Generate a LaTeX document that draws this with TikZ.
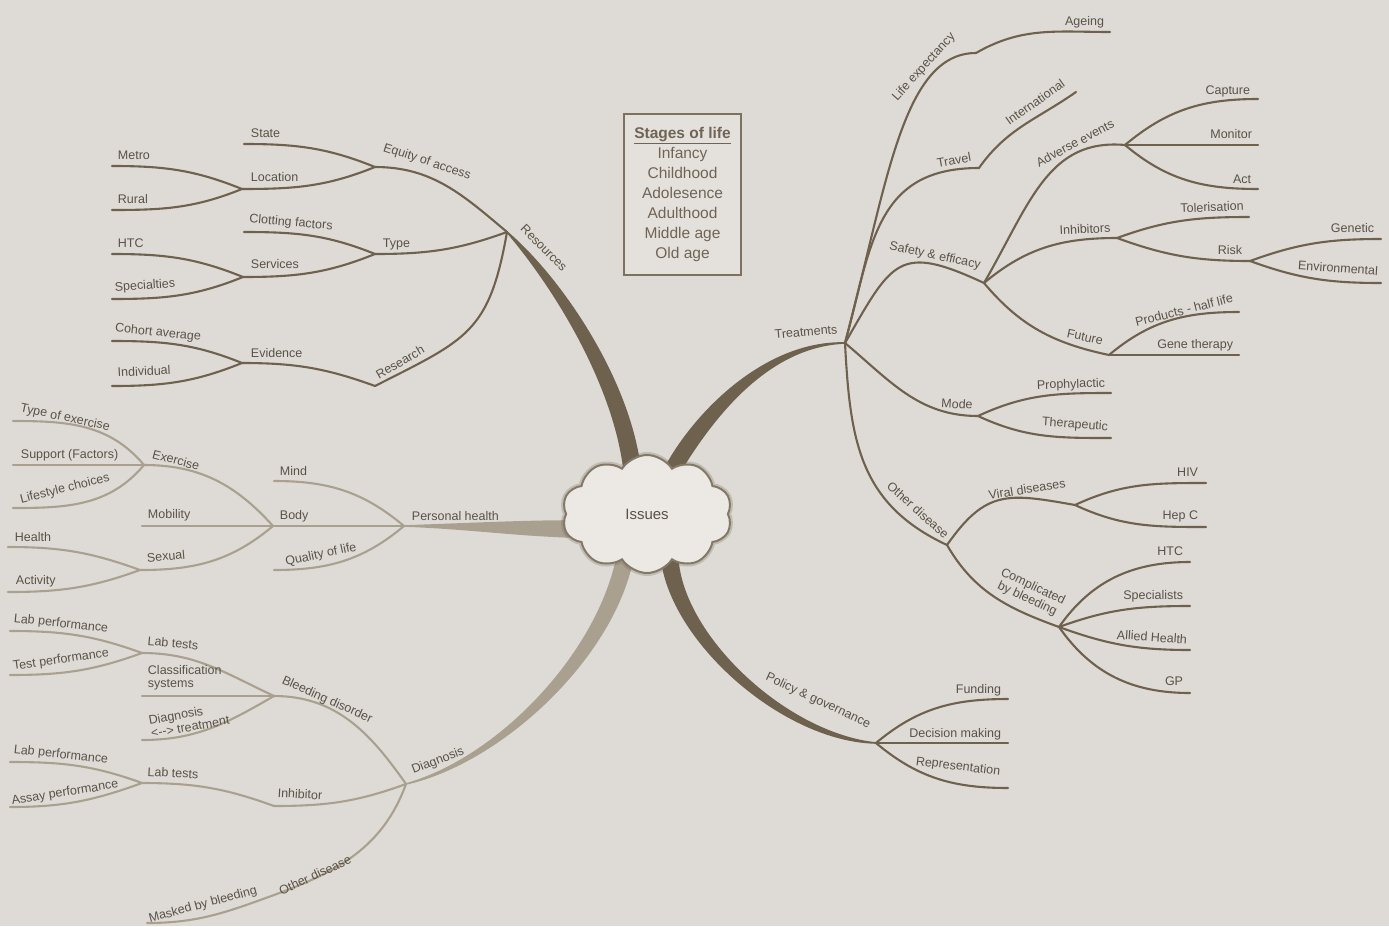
\documentclass[tikz,border=0pt]{standalone}
\usepackage{fontspec}
\setmainfont{Liberation Sans}
\usepackage{tikz}
\usetikzlibrary{shapes.symbols}

\definecolor{paper}{RGB}{222,219,214}
\definecolor{twig}{RGB}{110,97,77}
\definecolor{paletwig}{RGB}{170,160,143}
\definecolor{ink}{RGB}{90,82,71}
\definecolor{boxink}{RGB}{112,100,85}
\definecolor{boxfill}{RGB}{228,225,220}
\definecolor{cloudfill}{RGB}{236,233,228}

\begin{document}
\begin{tikzpicture}[x=1pt,y=1pt,yscale=-1,
    lbl/.style={inner sep=0.75pt,text=ink,font=\fontsize{12.5}{13.5}\selectfont},
    twigline/.style={draw=twig,line width=2.1pt,line cap=round},
    paleline/.style={draw=paletwig,line width=2.1pt,line cap=round},
    trunk/.style={fill=twig,draw=twig,line width=1.6pt,line join=round},
    paletrunk/.style={fill=paletwig,draw=paletwig,line width=1.6pt,line join=round}]

    %Shape: background
    \fill [paper] (0,0) rectangle (1389,926);
    \useasboundingbox (0,0) rectangle (1389,926);

    % junctions and free ends
    \coordinate (res) at (507,232);
    \coordinate (eqa) at (375,167);
    \coordinate (state-e) at (244,144);
    \coordinate (loc) at (242,189);
    \coordinate (metro-e) at (112,166);
    \coordinate (rural-e) at (112,210);
    \coordinate (typ) at (375,254);
    \coordinate (clot-e) at (244,232);
    \coordinate (srv) at (243,277);
    \coordinate (htc-e) at (112,254);
    \coordinate (spec-e) at (112,299);
    \coordinate (rsch) at (375,386);
    \coordinate (evd) at (242,363);
    \coordinate (coh-e) at (112,341);
    \coordinate (ind-e) at (112,386);

    \coordinate (ph) at (404,526);
    \coordinate (mind-e) at (274,481);
    \coordinate (body) at (273,526);
    \coordinate (qol-e) at (274,570);
    \coordinate (exer) at (144,465);
    \coordinate (toe-e) at (13,421);
    \coordinate (sup-e) at (13,465);
    \coordinate (life-e) at (13,508);
    \coordinate (mob-e) at (142,526);
    \coordinate (sex) at (140,570);
    \coordinate (hlth-e) at (8,547);
    \coordinate (act-e) at (8,592);

    \coordinate (diag) at (406,784);
    \coordinate (bleed) at (274,696);
    \coordinate (labt1) at (142,653);
    \coordinate (labp1-e) at (10,631);
    \coordinate (testp-e) at (10,675);
    \coordinate (class-e) at (142,696);
    \coordinate (dxtx-e) at (142,740);
    \coordinate (inhib) at (274,806);
    \coordinate (labt2) at (142,783);
    \coordinate (labp2-e) at (10,762);
    \coordinate (assay-e) at (10,807);
    \coordinate (othl) at (274,895);
    \coordinate (mask-e) at (147,923);

    \coordinate (treat) at (845,343);
    \coordinate (lifex) at (976,53);
    \coordinate (age-e) at (1110,32);
    \coordinate (trav) at (979,168);
    \coordinate (intl-e) at (1076,92);
    \coordinate (safe) at (984,283);
    \coordinate (adv) at (1125,145);
    \coordinate (capt-e) at (1258,99);
    \coordinate (mon-e) at (1258,145);
    \coordinate (act2-e) at (1258,189);
    \coordinate (inh) at (1117,238);
    \coordinate (tol-e) at (1249,217);
    \coordinate (risk) at (1250,261);
    \coordinate (gen-e) at (1381,239);
    \coordinate (env-e) at (1381,283);
    \coordinate (fut) at (1109,355);
    \coordinate (prod-e) at (1239,312);
    \coordinate (gene-e) at (1239,355);
    \coordinate (mode) at (978,416);
    \coordinate (pro-e) at (1111,393);
    \coordinate (ther-e) at (1111,438);
    \coordinate (othr) at (947,545);
    \coordinate (vir) at (1075,505);
    \coordinate (hiv-e) at (1206,483);
    \coordinate (hepc-e) at (1206,527);
    \coordinate (comp) at (1059,627);
    \coordinate (htc2-e) at (1190,562);
    \coordinate (spc-e) at (1190,606);
    \coordinate (alh-e) at (1190,650);
    \coordinate (gp-e) at (1190,693);
    \coordinate (pol) at (876,743);
    \coordinate (fund-e) at (1008,699);
    \coordinate (dec-e) at (1008,743);
    \coordinate (rep-e) at (1008,788);

    % trunk feet inside the cloud
    \coordinate (res-bl) at (625,478);
    \coordinate (res-br) at (641,478);
    \coordinate (treat-bl) at (660,478);
    \coordinate (treat-br) at (676,478);
    \coordinate (ph-bt) at (572,521);
    \coordinate (ph-bb) at (572,537);
    \coordinate (diag-bl) at (616,562);
    \coordinate (diag-br) at (632,562);
    \coordinate (pol-bl) at (662,562);
    \coordinate (pol-br) at (678,562);

    % Connection: trunks
    \filldraw [trunk] (res) .. controls +(48,56) and +(-8,-90) .. (res-bl) -- (res-br) .. controls +(-7,-92) and +(56,48) .. (res) -- cycle;
    \filldraw [trunk] (treat-bl) .. controls +(26,-56) and +(-85,-2) .. (treat) .. controls +(-83,3) and +(30,-50) .. (treat-br) -- cycle;
    \filldraw [paletrunk] (ph) .. controls +(60,-2) and +(-50,0) .. (ph-bt) -- (ph-bb) .. controls +(-60,-2) and +(60,2) .. (ph) -- cycle;
    \filldraw [paletrunk] (diag) .. controls +(92,-26) and +(-22,95) .. (diag-bl) -- (diag-br) .. controls +(-21,97) and +(96,-22) .. (diag) -- cycle;
    \filldraw [trunk] (pol-bl) .. controls +(12,82) and +(-92,-2) .. (pol) .. controls +(-88,-9) and +(8,78) .. (pol-br) -- cycle;

    % Connection: Resources
    \draw [twigline] (eqa) to[out=0,in=220] (res);
    \draw [twigline] (typ) to[out=0,in=160] (res);
    \draw [twigline] (rsch) to[out=333,in=100,looseness=1.3] (res);
    \draw [twigline] (state-e) to[out=0,in=202] (eqa);
    \draw [twigline] (loc) to[out=0,in=158] (eqa);
    \draw [twigline] (metro-e) to[out=0,in=202] (loc);
    \draw [twigline] (rural-e) to[out=0,in=158] (loc);
    \draw [twigline] (clot-e) to[out=0,in=202] (typ);
    \draw [twigline] (srv) to[out=0,in=158] (typ);
    \draw [twigline] (htc-e) to[out=0,in=202] (srv);
    \draw [twigline] (spec-e) to[out=0,in=158] (srv);
    \draw [twigline] (evd) to[out=0,in=200] (rsch);
    \draw [twigline] (coh-e) to[out=0,in=202] (evd);
    \draw [twigline] (ind-e) to[out=0,in=158] (evd);

    % Connection: Personal health
    \draw [paleline] (mind-e) to[out=0,in=220] (ph);
    \draw [paleline] (body) -- (ph);
    \draw [paleline] (qol-e) to[out=0,in=140] (ph);
    \draw [paleline] (exer) to[out=0,in=228] (body);
    \draw [paleline] (mob-e) -- (body);
    \draw [paleline] (sex) to[out=0,in=140] (body);
    \draw [paleline] (toe-e) to[out=0,in=230] (exer);
    \draw [paleline] (sup-e) -- (exer);
    \draw [paleline] (life-e) to[out=0,in=130] (exer);
    \draw [paleline] (hlth-e) to[out=0,in=200] (sex);
    \draw [paleline] (act-e) to[out=0,in=160] (sex);

    % Connection: Diagnosis
    \draw [paleline] (bleed) to[out=0,in=235] (diag);
    \draw [paleline] (inhib) to[out=0,in=160] (diag);
    \draw [paleline] (othl) to[out=340,in=110] (diag);
    \draw [paleline] (labt1) to[out=0,in=205] (bleed);
    \draw [paleline] (class-e) -- (bleed);
    \draw [paleline] (dxtx-e) to[out=0,in=150] (bleed);
    \draw [paleline] (labp1-e) to[out=0,in=200] (labt1);
    \draw [paleline] (testp-e) to[out=0,in=160] (labt1);
    \draw [paleline] (labt2) to[out=0,in=200] (inhib);
    \draw [paleline] (labp2-e) to[out=0,in=200] (labt2);
    \draw [paleline] (assay-e) to[out=0,in=160] (labt2);
    \draw [paleline] (mask-e) to[out=0,in=160] (othl);

    % Connection: Treatments
    \draw [twigline] (treat) to[out=285,in=180,out looseness=1.3,in looseness=0.6] (lifex);
    \draw [twigline] (lifex) to[out=330,in=180] (age-e);
    \draw [twigline] (treat) to[out=285,in=180,looseness=1.2] (trav);
    \draw [twigline] (trav) to[out=305,in=145] (intl-e);
    \draw [twigline] (treat) to[out=300,in=205,looseness=1.6] (safe);
    \draw [twigline] (safe) to[out=300,in=185,out looseness=1.2] (adv);
    \draw [twigline] (adv) to[out=320,in=180] (capt-e);
    \draw [twigline] (adv) -- (mon-e);
    \draw [twigline] (adv) to[out=40,in=180] (act2-e);
    \draw [twigline] (safe) to[out=320,in=180] (inh);
    \draw [twigline] (inh) to[out=340,in=180] (tol-e);
    \draw [twigline] (inh) to[out=20,in=180] (risk);
    \draw [twigline] (risk) to[out=340,in=180] (gen-e);
    \draw [twigline] (risk) to[out=20,in=180] (env-e);
    \draw [twigline] (safe) to[out=50,in=192] (fut);
    \draw [twigline] (fut) to[out=320,in=180] (prod-e);
    \draw [twigline] (fut) -- (gene-e);
    \draw [twigline] (treat) to[out=40,in=180] (mode);
    \draw [twigline] (mode) to[out=335,in=180] (pro-e);
    \draw [twigline] (mode) to[out=25,in=180] (ther-e);
    \draw [twigline] (treat) to[out=87,in=205,looseness=1.1] (othr);
    \draw [twigline] (othr) to[out=305,in=190,looseness=1.3] (vir);
    \draw [twigline] (vir) to[out=335,in=180] (hiv-e);
    \draw [twigline] (vir) to[out=25,in=180] (hepc-e);
    \draw [twigline] (othr) to[out=60,in=200] (comp);
    \draw [twigline] (comp) to[out=305,in=180] (htc2-e);
    \draw [twigline] (comp) to[out=340,in=180] (spc-e);
    \draw [twigline] (comp) to[out=20,in=180] (alh-e);
    \draw [twigline] (comp) to[out=55,in=180] (gp-e);

    % Connection: Policy & governance
    \draw [twigline] (pol) to[out=320,in=180] (fund-e);
    \draw [twigline] (pol) -- (dec-e);
    \draw [twigline] (pol) to[out=40,in=180] (rep-e);

    %Shape: Cloud
    \node (issues) [cloud, cloud puffs=10, cloud puff arc=115, cloud ignores aspect,
        minimum width=170pt, minimum height=118pt, fill=cloudfill, draw=twig!85, line width=2pt,
        preaction={draw=twig, line width=6pt, opacity=0.25},
        text=ink, font=\fontsize{15}{17}\selectfont] at (647,514) {Issues};

    %Shape: Rectangle
    \node (stages) [draw=twig!90, line width=1.6pt, fill=boxfill, minimum width=117pt, minimum height=161pt,
        inner sep=0pt, align=center, text=boxink, font=\fontsize{15.5}{20}\selectfont] at (682.5,194.5)
        {\underline{\textbf{Stages of life}}\\Infancy\\Childhood\\Adolesence\\Adulthood\\Middle age\\Old age};

    % Text Node: Resources
    \node (res-l) [lbl, rotate=-45] at (544,248) {Resources};
    \node (eqa-l) [lbl, rotate=-18] at (427,162) {Equity of access};
    \node (state) [lbl, anchor=base west] at (250,137) {State};
    \node (loc-l) [lbl, anchor=base west] at (250,181) {Location};
    \node (metro) [lbl, anchor=base west] at (117,159) {Metro};
    \node (rural) [lbl, anchor=base west] at (117,203) {Rural};
    \node (typ-l) [lbl, anchor=base west] at (382,247) {Type};
    \node (clot) [lbl, rotate=-5] at (291,223) {Clotting factors};
    \node (srv-l) [lbl, anchor=base west] at (250,268) {Services};
    \node (htc) [lbl, anchor=base west] at (117,247) {HTC};
    \node (spec) [lbl, rotate=4] at (145,286) {Specialties};
    \node (rsch-l) [lbl, rotate=30] at (400,362) {Research};
    \node (evd-l) [lbl, anchor=base west] at (250,357) {Evidence};
    \node (coh) [lbl, rotate=-6] at (158,333) {Cohort average};
    \node (ind) [lbl, anchor=base west, rotate=3] at (117,377) {Individual};

    % Text Node: Personal health
    \node (ph-l) [lbl, anchor=base west] at (411,520) {Personal health};
    \node (mind) [lbl, anchor=base west] at (279,475) {Mind};
    \node (body-l) [lbl, anchor=base west] at (279,519) {Body};
    \node (qol) [lbl, rotate=12] at (321,555) {Quality of life};
    \node (exer-l) [lbl, rotate=-15] at (176,460) {Exercise};
    \node (toe) [lbl, rotate=-12] at (65,418) {Type of exercise};
    \node (sup) [lbl, anchor=base west] at (20,458) {Support (Factors)};
    \node (life) [lbl, rotate=14] at (65,489) {Lifestyle choices};
    \node (mob) [lbl, anchor=base west] at (147,518) {Mobility};
    \node (sex-l) [lbl, rotate=5] at (166,556) {Sexual};
    \node (hlth) [lbl, anchor=base west] at (14,541) {Health};
    \node (act) [lbl, anchor=base west] at (15,584) {Activity};

    % Text Node: Diagnosis
    \node (diag-l) [lbl, rotate=21] at (438,761) {Diagnosis};
    \node (bleed-l) [lbl, rotate=-24] at (327,700) {Bleeding disorder};
    \node (labt1-l) [lbl, rotate=-5] at (173,643) {Lab tests};
    \node (labp1) [lbl, rotate=-6] at (61,624) {Lab performance};
    \node (testp) [lbl, rotate=8] at (61,660) {Test performance};
    \node (class) [lbl, anchor=west, align=left] at (147,678) {Classification\\systems};
    \node (dxtx) [lbl, rotate=10, align=left] at (189,720) {Diagnosis\\<-{}-> treatment};
    \node (labp2) [lbl, rotate=-6] at (61,755) {Lab performance};
    \node (labt2-l) [lbl, rotate=-3] at (173,773) {Lab tests};
    \node (assay) [lbl, rotate=9] at (65,793) {Assay performance};
    \node (inhib-l) [lbl, rotate=-3] at (300,794) {Inhibitor};
    \node (othl-l) [lbl, rotate=25] at (315,875) {Other disease};
    \node (mask) [lbl, rotate=15] at (203,905) {Masked by bleeding};

    % Text Node: Treatments
    \node (treat-l) [lbl, rotate=5] at (806,332) {Treatments};
    \node (lifex-l) [lbl, rotate=48] at (924,67) {Life expectancy};
    \node (age) [lbl, anchor=base east] at (1105,25) {Ageing};
    \node (trav-l) [lbl, rotate=10] at (954,160) {Travel};
    \node (intl) [lbl, rotate=35] at (1035,102) {International};
    \node (safe-l) [lbl, rotate=-12] at (935,256) {Safety \& efficacy};
    \node (adv-l) [lbl, rotate=28] at (1075,143) {Adverse events};
    \node (capt) [lbl, anchor=base east] at (1251,94) {Capture};
    \node (mon) [lbl, anchor=base east] at (1253,138) {Monitor};
    \node (act2) [lbl, anchor=base east] at (1252,183) {Act};
    \node (inh-l) [lbl, rotate=3] at (1085,229) {Inhibitors};
    \node (tol) [lbl, rotate=2] at (1212,207) {Tolerisation};
    \node (risk-l) [lbl, anchor=base east] at (1243,254) {Risk};
    \node (gen) [lbl, anchor=base east] at (1375,232) {Genetic};
    \node (env) [lbl, rotate=-4] at (1338,268) {Environmental};
    \node (fut-l) [lbl, rotate=-12] at (1085,337) {Future};
    \node (prod) [lbl, rotate=14] at (1184,310) {Products - half life};
    \node (gene) [lbl, anchor=base east] at (1234,348) {Gene therapy};
    \node (mode-l) [lbl, rotate=-3] at (957,404) {Mode};
    \node (pro) [lbl, rotate=2] at (1071,385) {Prophylactic};
    \node (ther) [lbl, rotate=-4] at (1075,425) {Therapeutic};
    \node (othr-l) [lbl, rotate=-42] at (918,510) {Other disease};
    \node (vir-l) [lbl, rotate=9] at (1027,489) {Viral diseases};
    \node (hiv) [lbl, anchor=base east] at (1199,476) {HIV};
    \node (hepc) [lbl, anchor=base east] at (1199,519) {Hep C};
    \node (comp-l) [lbl, rotate=-25, align=center] at (1030,593) {Complicated\\by bleeding};
    \node (htc2) [lbl, anchor=base east] at (1184,555) {HTC};
    \node (spc) [lbl, anchor=base east] at (1184,599) {Specialists};
    \node (alh) [lbl, rotate=-4] at (1152,637) {Allied Health};
    \node (gp) [lbl, anchor=base east] at (1184,685) {GP};

    % Text Node: Policy & governance
    \node (pol-l) [lbl, rotate=-25] at (818,701) {Policy \& governance};
    \node (fund) [lbl, anchor=base east] at (1002,693) {Funding};
    \node (dec) [lbl, anchor=base east] at (1002,737) {Decision making};
    \node (rep) [lbl, rotate=-7] at (958,767) {Representation};
\end{tikzpicture}
\end{document}
